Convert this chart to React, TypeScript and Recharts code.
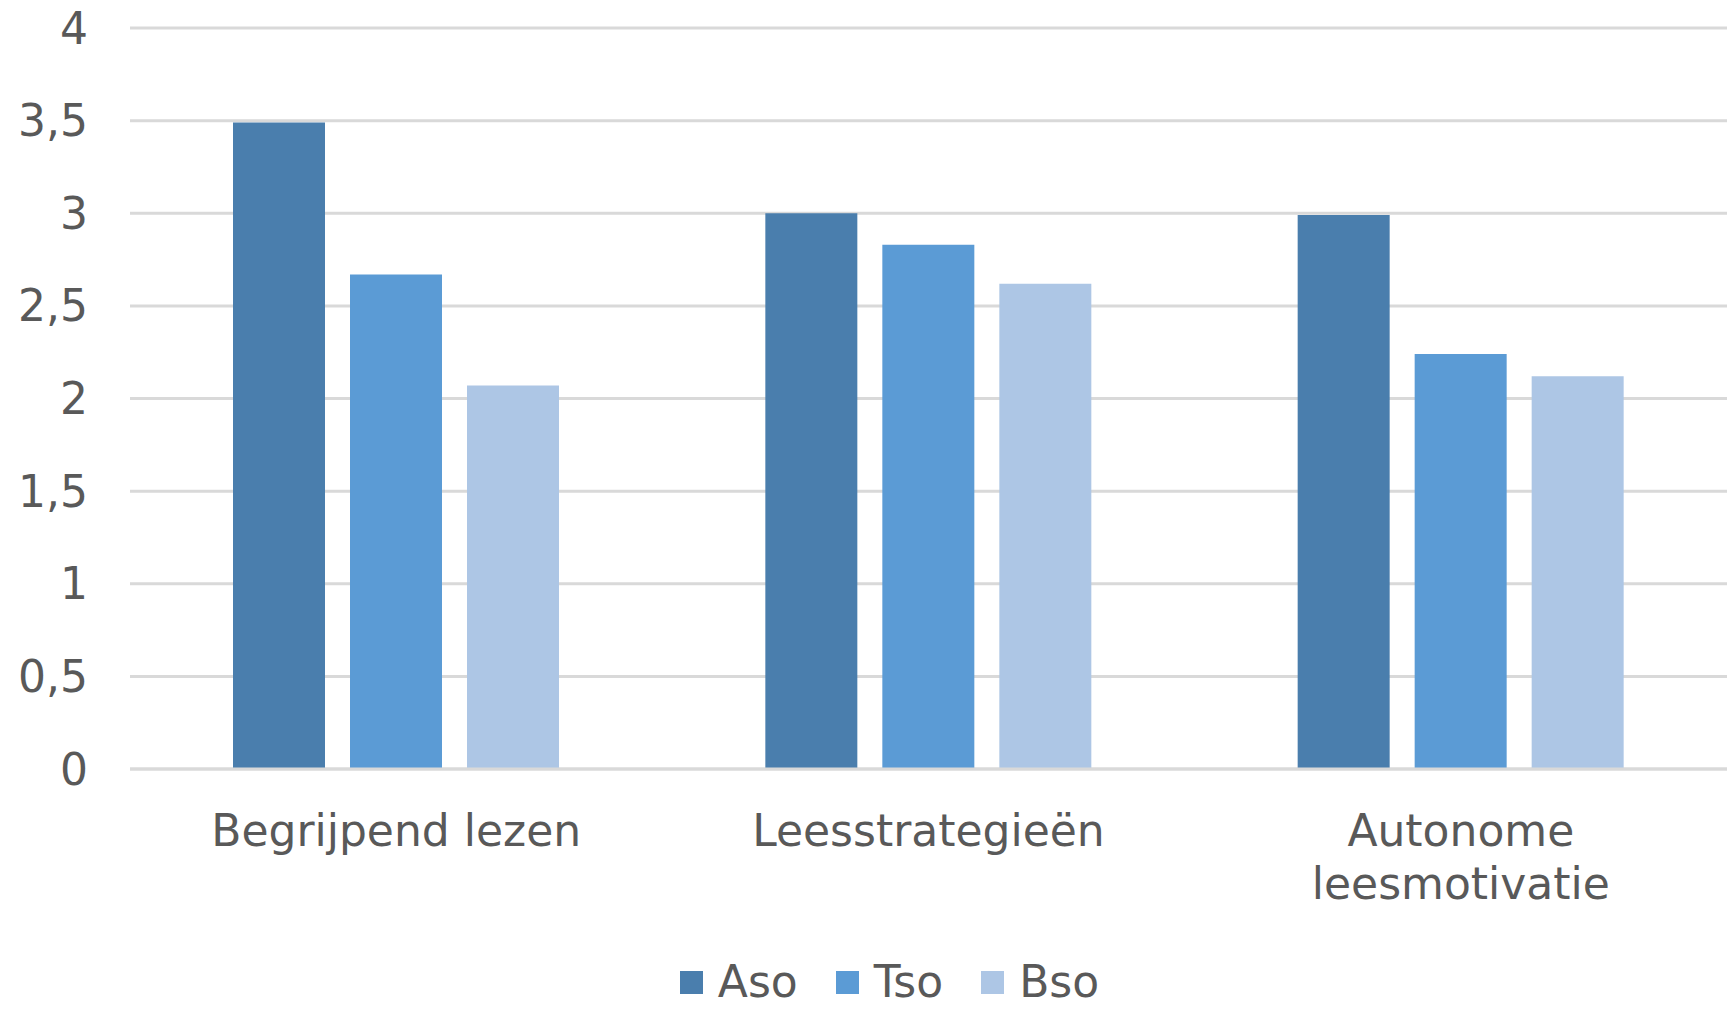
import { BarChart, Bar, XAxis, YAxis, CartesianGrid, Legend } from 'recharts';

const categories = ['Begrijpend lezen', 'Leesstrategieën', 'Autonome leesmotivatie'];
const asoValues = [3.49, 3.0, 2.99];
const tsoValues = [2.67, 2.83, 2.24];
const bsoValues = [2.07, 2.62, 2.12];
const yTicks = [0, 0.5, 1, 1.5, 2, 2.5, 3, 3.5, 4];

const seriesMeta = [
  { key: 'Aso', color: '#4A7EAD' },
  { key: 'Tso', color: '#5B9BD5' },
  { key: 'Bso', color: '#ADC6E5' },
];

const FONT = '"DejaVu Sans", Verdana, sans-serif';
const TEXT_COLOR = '#595959';

const data = categories.map((name, i) => ({
  name,
  Aso: asoValues[i],
  Tso: tsoValues[i],
  Bso: bsoValues[i],
}));

// long labels wrap onto one word per line, like Excel does here
const CategoryTick = (props: any) => {
  const { x, y, payload } = props;
  const label: string = payload.value;
  const lines = label.length > 18 ? label.split(' ') : [label];
  return (
    <text
      x={x}
      y={y}
      textAnchor="middle"
      fill={TEXT_COLOR}
      fontSize={44}
      fontFamily={FONT}
    >
      {lines.map((line, i) => (
        <tspan key={i} x={x} dy={i === 0 ? 31 : 53}>
          {line}
        </tspan>
      ))}
    </text>
  );
};

const LegendContent = () => (
  <div
    style={{
      height: 50,
      display: 'flex',
      alignItems: 'center',
      justifyContent: 'center',
      paddingLeft: 52,
      fontFamily: FONT,
      fontSize: 44,
      color: TEXT_COLOR,
    }}
  >
    {seriesMeta.map((s, i) => (
      <div key={s.key} style={{ display: 'flex', alignItems: 'center', marginLeft: i === 0 ? 0 : 38 }}>
        <div style={{ width: 23, height: 23, background: s.color, marginRight: 15 }} />
        <span style={{ lineHeight: '50px' }}>{s.key}</span>
      </div>
    ))}
  </div>
);

export default function App() {
  return (
    <div style={{ position: 'absolute', left: 0, top: 0, background: '#fff' }}>
      <BarChart
        width={1730}
        height={1009}
        data={data}
        margin={{ top: 28, right: 3, bottom: 2, left: 0 }}
        barCategoryGap={103}
        barGap={25}
      >
        <CartesianGrid vertical={false} stroke="#D9D9D9" strokeWidth={3} />
        <XAxis
          dataKey="name"
          height={188}
          axisLine={{ stroke: '#D9D9D9', strokeWidth: 3 }}
          tickLine={false}
          tickMargin={40}
          tick={<CategoryTick />}
          interval={0}
        />
        <YAxis
          width={130}
          domain={[0, 4]}
          ticks={yTicks}
          axisLine={false}
          tickLine={false}
          tickMargin={36}
          tickFormatter={(v: number) => String(v).replace('.', ',')}
          tick={{ fill: TEXT_COLOR, fontSize: 44, fontFamily: FONT }}
        />
        <Legend verticalAlign="bottom" content={<LegendContent />} />
        {seriesMeta.map((s) => (
          <Bar key={s.key} dataKey={s.key} fill={s.color} isAnimationActive={false} />
        ))}
      </BarChart>
    </div>
  );
}
